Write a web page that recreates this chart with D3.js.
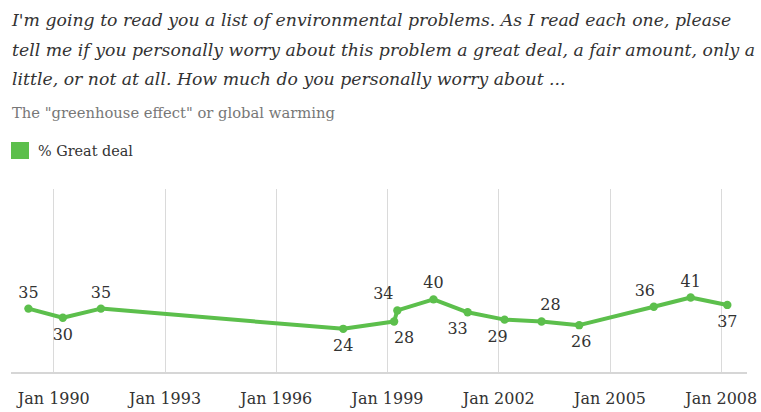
<!DOCTYPE html>
<html>
<head>
<meta charset="utf-8">
<script src="https://cdn.jsdelivr.net/npm/d3@7"></script>
<style>
  html, body { margin: 0; padding: 0; background: #fff; }
  svg { display: block; }
  text { font-family: "DejaVu Serif", "Liberation Serif", serif; }
</style>
</head>
<body>
<svg id="chart" width="761" height="412"></svg>
<script>
// Survey question and series
const titleLines = [
  "I'm going to read you a list of environmental problems. As I read each one, please",
  "tell me if you personally worry about this problem a great deal, a fair amount, only a",
  "little, or not at all. How much do you personally worry about ..."
];
const subtitle = "The \"greenhouse effect\" or global warming";
const seriesName = "% Great deal";

// Poll dates (year, month index, day) and % who worry a great deal
const pollDates = [
  [1989, 4, 1], [1990, 3, 5], [1991, 3, 15], [1997, 9, 27],
  [1999, 2, 12], [1999, 3, 13], [2000, 3, 3], [2001, 2, 5],
  [2002, 2, 4], [2003, 2, 3], [2004, 2, 8], [2006, 2, 13],
  [2007, 2, 11], [2008, 2, 6]
];
const greatDeal = [35, 30, 35, 24, 28, 34, 40, 33, 29, 28, 26, 36, 41, 37];

// Axis tick years (labelled "Jan YYYY")
const tickYears = [1990, 1993, 1996, 1999, 2002, 2005, 2008];

// Value label placement: side of the point and horizontal nudge
const labelSide = ["up", "down", "up", "down", "down", "up", "up", "down", "down", "up", "down", "up", "up", "down"];
const labelNudge = [0, 0, 0, 0, 10, -14, 0, -10, -7, 9, 2, -9, 0, 0];

const GREEN = "#5cbf4c";
const svg = d3.select("#chart");

// Fit a text element's font size so it spans the given width
function fitWidth(sel, target, base) {
  sel.style("font-size", base + "px");
  const w = sel.node().getComputedTextLength();
  const size = base * target / w;
  sel.style("font-size", size.toFixed(2) + "px");
  return size;
}

// Title (italic)
const t0 = svg.append("text").attr("x", 12).attr("y", 26)
  .attr("fill", "#333").style("font-style", "italic").text(titleLines[0]);
const titleSize = fitWidth(t0, 720, 17);
titleLines.slice(1).forEach((line, i) => {
  svg.append("text").attr("x", 12).attr("y", 26 + (i + 1) * 29.5)
    .attr("fill", "#333").style("font-style", "italic")
    .style("font-size", titleSize.toFixed(2) + "px").text(line);
});

// Subtitle
const st = svg.append("text").attr("x", 12).attr("y", 118)
  .attr("fill", "#777").text(subtitle);
fitWidth(st, 323, 14);

// Legend
svg.append("rect").attr("x", 11).attr("y", 142).attr("width", 18).attr("height", 17)
  .attr("fill", GREEN);
const lt = svg.append("text").attr("x", 38).attr("y", 155.5)
  .attr("fill", "#333").text(seriesName);
fitWidth(lt, 95, 14);

// Scales
const x = d3.scaleTime()
  .domain([new Date(1990, 0, 1), new Date(2008, 0, 1)])
  .range([53.3, 720.7]);
const y = d3.scaleLinear().domain([0, 100]).range([373, 189]);

const data = pollDates.map((d, i) => ({
  date: new Date(d[0], d[1], d[2]),
  value: greatDeal[i],
  side: labelSide[i],
  nudge: labelNudge[i]
}));
const tickDates = tickYears.map(yr => new Date(yr, 0, 1));

// Vertical gridlines
svg.append("g").selectAll("line").data(tickDates).join("line")
  .attr("x1", d => Math.round(x(d)) + 0.5).attr("x2", d => Math.round(x(d)) + 0.5)
  .attr("y1", y(100)).attr("y2", y(0))
  .attr("stroke", "#dadada").attr("stroke-width", 1);

// Baseline
svg.append("line").attr("x1", 11).attr("x2", 747)
  .attr("y1", y(0)).attr("y2", y(0))
  .attr("stroke", "#d6d6d6").attr("stroke-width", 2);

// X axis labels
const axis = d3.axisBottom(x).tickValues(tickDates)
  .tickFormat(d3.timeFormat("Jan %Y")).tickSize(0).tickPadding(0);
const ax = svg.append("g").attr("transform", `translate(0,${y(0)})`).call(axis);
ax.select(".domain").remove();
ax.selectAll("text")
  .attr("dy", null).attr("y", 31)
  .attr("fill", "#333")
  .style("font-family", "\"DejaVu Serif\", serif");
const firstTick = ax.select(".tick text");
const tickSize = fitWidth(firstTick, 72, 14);
ax.selectAll("text").style("font-size", tickSize.toFixed(2) + "px");
ax.attr("font-size", null);

// Line
const line = d3.line().x(d => x(d.date)).y(d => y(d.value));
svg.append("path").datum(data)
  .attr("d", line)
  .attr("fill", "none")
  .attr("stroke", GREEN)
  .attr("stroke-width", 4)
  .attr("stroke-linejoin", "round")
  .attr("stroke-linecap", "round");

// Points
svg.append("g").selectAll("circle").data(data).join("circle")
  .attr("cx", d => x(d.date)).attr("cy", d => y(d.value))
  .attr("r", 4.2).attr("fill", GREEN);

// Value labels
svg.append("g").selectAll("text").data(data).join("text")
  .attr("x", d => x(d.date) + d.nudge)
  .attr("y", d => d.side === "up" ? y(d.value) - 11 : y(d.value) + 22)
  .attr("text-anchor", "middle")
  .attr("fill", "#333")
  .style("font-size", tickSize.toFixed(2) + "px")
  .text(d => d.value);
</script>
</body>
</html>
